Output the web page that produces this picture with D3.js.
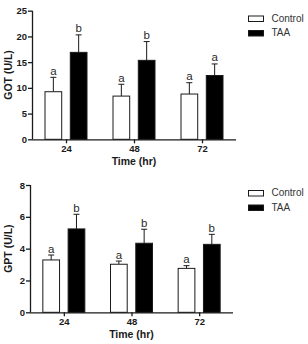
<!DOCTYPE html>
<html><head><meta charset="utf-8">
<script src="https://cdn.jsdelivr.net/npm/d3@7"></script>
<style>
body{margin:0;background:#fff;}
svg{display:block;font-family:"Liberation Sans",Arial,sans-serif;}
</style></head><body>
<svg id="c" width="308" height="344"></svg>
<script>
const times = ["24","48","72"];
const series = ["Control","TAA"];
const gotMean = {Control:[9.25,8.4,8.8], TAA:[16.9,15.35,12.4]};
const gotErr  = {Control:[12.05,10.7,11.0], TAA:[20.3,19.0,14.65]};
const gotLetters = {Control:["a","a","a"], TAA:["b","b","a"]};
const gptMean = {Control:[3.29,3.02,2.76], TAA:[5.24,4.34,4.27]};
const gptErr  = {Control:[3.6,3.22,2.93], TAA:[6.16,5.22,4.9]};
const gptLetters = {Control:["a","a","a"], TAA:["b","b","b"]};
const gotTicks = [0,5,10,15,20,25];
const gptTicks = [0,2,4,6,8];

const svg = d3.select("#c");
const ink = "#1a1a1a";

function panel(o){
  const g = svg.append("g");
  const x = d3.scalePoint().domain(times).range([o.x0,o.x1]).padding(0.5);
  const xi = d3.scaleBand().domain(series).range([-21.5,21.5]).paddingInner(0.3);
  const y = d3.scaleLinear().domain([0,o.ymax]).range([o.y0,o.y1]);
  series.forEach(s=>{
    times.forEach((t,i)=>{
      const bx = x(t)+xi(s);
      const cx = bx + xi.bandwidth()/2;
      g.append("line").attr("x1",cx).attr("x2",cx)
        .attr("y1",y(o.mean[s][i])).attr("y2",y(o.err[s][i]))
        .attr("stroke",ink).attr("stroke-width",1);
      g.append("line").attr("x1",cx-3).attr("x2",cx+3)
        .attr("y1",y(o.err[s][i])).attr("y2",y(o.err[s][i]))
        .attr("stroke",ink).attr("stroke-width",1);
      g.append("rect").attr("x",bx+0.5).attr("y",y(o.mean[s][i]))
        .attr("width",xi.bandwidth()-1).attr("height",y(0)-y(o.mean[s][i]))
        .attr("fill",s==="Control"?"#fff":"#000")
        .attr("stroke",ink).attr("stroke-width",1);
      g.append("text").attr("x",cx).attr("y",y(o.err[s][i])-2.5)
        .attr("text-anchor","middle").attr("font-size",11.5)
        .attr("fill","#2a2a2a").text(o.letters[s][i]);
    });
  });
  const ya = d3.axisLeft(y).tickValues(o.ticks).tickSize(4).tickSizeOuter(0);
  const yg = g.append("g").attr("transform",`translate(${o.x0},0)`).call(ya);
  const xa = d3.axisBottom(x).tickSize(4).tickSizeOuter(0);
  const xg = g.append("g").attr("transform",`translate(0,${o.y0})`).call(xa);
  [yg,xg].forEach(a=>{
    a.selectAll("path,line").attr("stroke",ink).attr("stroke-width",1.3);
    a.selectAll("text").attr("font-size",9.5).attr("font-weight","bold")
      .attr("fill",ink).attr("font-family","Liberation Sans, Arial, sans-serif");
  });
  yg.selectAll("text").attr("x",-5);
  xg.selectAll("text").attr("y",6);
  xg.select(".domain").attr("d",`M${o.x0},0.5H${o.x1}`);
  yg.select(".domain").attr("d",`M0.5,${o.y0}V${o.y1}`);
  g.append("text").attr("x",(o.x0+o.x1)/2).attr("y",o.y0+26)
    .attr("text-anchor","middle").attr("font-size",10.5).attr("font-weight","bold")
    .attr("fill",ink).text("Time (hr)");
  g.append("text").attr("transform",`translate(${o.ylx},${(o.y0+o.y1)/2}) rotate(-90)`)
    .attr("text-anchor","middle").attr("font-size",10.5).attr("font-weight","bold")
    .attr("fill",ink).text(o.ylabel);
  series.forEach((s,i)=>{
    const ly = o.ly + i*14.5;
    g.append("rect").attr("x",248.5).attr("y",ly-2.5).attr("width",15).attr("height",5.5)
      .attr("fill",s==="Control"?"#fff":"#000").attr("stroke",ink).attr("stroke-width",1);
    g.append("text").attr("x",271.5).attr("y",ly+0.5).attr("dominant-baseline","middle")
      .attr("font-size",10).attr("fill","#333").text(s);
  });
}

panel({x0:32,x1:236,y0:139.3,y1:10.7,ymax:25,ticks:gotTicks,mean:gotMean,err:gotErr,
  letters:gotLetters,ylabel:"GOT (U/L)",ylx:12,ly:18.5});
panel({x0:30,x1:233,y0:312.3,y1:185,ymax:8,ticks:gptTicks,mean:gptMean,err:gptErr,
  letters:gptLetters,ylabel:"GPT (U/L)",ylx:12,ly:193});
</script></body></html>
